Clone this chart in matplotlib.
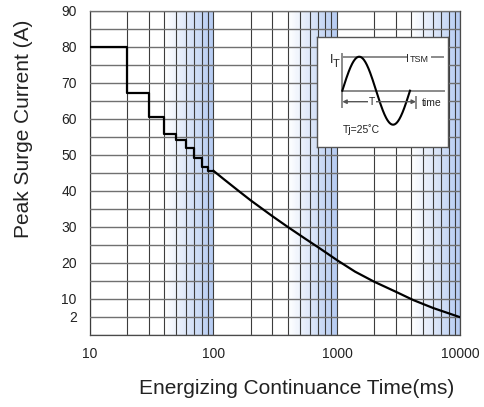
import numpy as np
import matplotlib
matplotlib.use("Agg")
import matplotlib.pyplot as plt
from matplotlib.ticker import FixedLocator, MultipleLocator, NullFormatter
from matplotlib.colors import to_rgb

plt.rcParams['font.family'] = ['Liberation Sans', 'DejaVu Sans']

# step part of the surge curve (ms, A)
step_t = [10, 20, 30, 40, 50, 60, 70, 80, 90, 100]
step_i = [80, 67.2, 60.6, 55.7, 54.2, 51.9, 49.2, 46.8, 45.6, 45.6]
# smooth tail
tail_t = [100, 120, 160, 200, 300, 400, 550, 730, 1000, 1400, 2000, 3000, 4150, 6000, 10000]
tail_i = [45.6, 43.4, 40.0, 37.4, 33.0, 30.0, 26.8, 24.0, 20.8, 17.6, 14.8, 12.0, 9.7, 7.5, 4.9]

x_ticks = [10, 100, 1000, 10000]
x_labels = ["10", "100", "1000", "10000"]
y_ticks = [5, 10, 20, 30, 40, 50, 60, 70, 80, 90]
y_labels = ["2", "10", "20", "30", "40", "50", "60", "70", "80", "90"]

shade_bands = [(40, 100), (400, 1000), (4000, 10000)]
shade_color = "#b4caf1"

W, H = 485, 407
fig = plt.figure(figsize=(W / 100, H / 100), dpi=100)
ax = fig.add_axes([90 / W, 1 - 335 / H, 370.5 / W, 324 / H])

ax.set_xscale("log")
ax.set_xlim(10, 10000)
ax.set_ylim(0, 90)

# gradient bands, white -> blue towards the decade end
c0 = np.array([1.0, 1.0, 1.0])
c1 = np.array(to_rgb(shade_color))
nseg = 40
for lo, hi in shade_bands:
    edges = np.logspace(np.log10(lo), np.log10(hi), nseg + 1)
    for k in range(nseg):
        f = (k + 0.5) / nseg
        ax.axvspan(edges[k], edges[k + 1], color=c0 + (c1 - c0) * f, lw=0, zorder=0)

ax.xaxis.set_major_locator(FixedLocator(x_ticks))
ax.set_xticklabels(x_labels)
ax.xaxis.set_minor_formatter(NullFormatter())
ax.yaxis.set_major_locator(FixedLocator(y_ticks))
ax.set_yticklabels(y_labels)
ax.yaxis.set_minor_locator(MultipleLocator(5))

ax.grid(which="both", axis="x", color="#3c3c3c", lw=0.8, zorder=1)
ax.grid(which="both", axis="y", color="#707070", lw=1.0, zorder=1)
ax.set_axisbelow(False)
ax.tick_params(which="both", length=0, labelsize=10, colors="#222222")
ax.tick_params(axis="x", pad=8.5)
ax.tick_params(axis="y", pad=9.5)
for s in ax.spines.values():
    s.set_color("#4a4a4a")
    s.set_linewidth(0.9)

ax.plot(step_t, step_i, color="black", lw=1.6, drawstyle="steps-post", zorder=3)
ax.plot(tail_t, tail_i, color="black", lw=1.6, zorder=3)

fig.text(24 / W, 1 - 128.5 / H, "Peak Surge Current (A)", rotation=90,
         ha="center", va="center", fontsize=15, color="#222222")
fig.text(297 / W, 1 - 389 / H, "Energizing Continuance Time(ms)",
         ha="center", va="center", fontsize=15, color="#222222")

# inset sketch of the surge waveform
ins = ax.inset_axes([(317 - 90) / 370.5, (335 - 147) / 324, 131 / 370.5, 110 / 324])
ins.set_xlim(0, 131)
ins.set_ylim(110, 0)
ins.set_xticks([])
ins.set_yticks([])
ins.set_facecolor("white")
ins.set_zorder(5)
for s in ins.spines.values():
    s.set_color("#555555")
    s.set_linewidth(1.0)

gcol = "#8a8a8a"
ins.plot([25.3, 25.3], [17, 70], color=gcol, lw=1.4)
ins.plot([25.3, 89], [19.7, 19.7], color=gcol, lw=1.4)
ins.plot([115, 126], [19.7, 19.7], color=gcol, lw=1.4)
ins.plot([25.3, 127], [53.7, 53.7], color=gcol, lw=1.4)
ins.plot([99, 99], [59.7, 71], color=gcol, lw=1.4)
ins.annotate("", xy=(25.3, 64.7), xytext=(99, 64.7),
             arrowprops=dict(arrowstyle="<|-|>", color="#555555", lw=1.0,
                             mutation_scale=6, shrinkA=0, shrinkB=0))
sx = np.linspace(25.3, 93, 200)
ins.plot(sx, 53.7 - 34 * np.sin(2 * np.pi * (sx - 25.3) / 67.7), color="black", lw=1.5)

ins.text(13.0, 26, "I", fontsize=9, ha="left", va="baseline", color="#222222")
ins.text(16.2, 30.3, "T", fontsize=8, ha="left", va="baseline", color="#222222")
ins.text(89.5, 24.7, "I", fontsize=7.5, ha="left", va="baseline", color="#222222")
ins.text(92.6, 24.7, "TSM", fontsize=6.5, ha="left", va="baseline", color="#222222")
ins.text(55.3, 65, "T", fontsize=7.5, ha="center", va="center", color="#222222",
         bbox=dict(facecolor="white", edgecolor="none", pad=0.5))
ins.text(104.7, 65.7, "time", fontsize=7.5, ha="left", va="center", color="#222222")
ins.text(26, 92.3, "Tj=25˚C", fontsize=7.5, ha="left", va="center", color="#222222")

fig.savefig("out.png", dpi=100)
